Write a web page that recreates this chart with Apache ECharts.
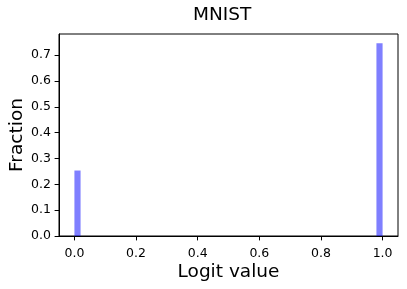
<!DOCTYPE html>
<html><head><meta charset="utf-8">
<script src="https://cdn.jsdelivr.net/npm/echarts@6/dist/echarts.min.js"></script>
<style>html,body{margin:0;padding:0;background:#fff}#c{width:407px;height:289px}</style>
</head><body><div id="c"></div>
<script>
// histogram bins (50 bins of width 0.02 on [0,1]); only non-empty bins listed
const binLeft = [0.0, 0.98];
const binWidth = 0.02;
const fraction = [0.2535, 0.7465];
const xTicks = [0.0, 0.2, 0.4, 0.6, 0.8, 1.0];
const yTicks = [0.0, 0.1, 0.2, 0.3, 0.4, 0.5, 0.6, 0.7];

const FONT = 'DejaVu Sans';
const data = binLeft.map((l, i) => [l, l + binWidth, fraction[i]]);
const chart = echarts.init(document.getElementById('c'), null, {renderer: 'canvas'});
chart.setOption({
  animation: false,
  title: {text: 'MNIST', left: 188, top: 1,
    textStyle: {fontFamily: FONT, fontSize: 18.5, fontWeight: 'normal', color: '#000'}},
  grid: {left: 59, right: 9, top: 34, bottom: 53, containLabel: false, outerBoundsMode: 'none',
    show: true, borderColor: '#000', borderWidth: 1, backgroundColor: 'transparent'},
  xAxis: {type: 'value', min: -0.05, max: 1.05,
    name: 'Logit value', nameLocation: 'middle', nameGap: 26.5, nameMoveOverlap: false,
    nameTextStyle: {fontFamily: FONT, fontSize: 18.5, color: '#000'},
    axisLine: {show: true, onZero: false, lineStyle: {color: '#000', width: 1}},
    axisTick: {show: true, customValues: xTicks, length: 4.4, lineStyle: {color: '#000'}},
    axisLabel: {customValues: xTicks, formatter: v => v.toFixed(1), fontFamily: FONT, fontSize: 12.5, color: '#000', margin: 11.5},
    splitLine: {show: false}},
  yAxis: {type: 'value', min: 0, max: 0.782,
    name: 'Fraction', nameLocation: 'middle', nameGap: 32, nameMoveOverlap: false,
    nameTextStyle: {fontFamily: FONT, fontSize: 18.5, color: '#000'},
    axisLine: {show: true, onZero: false, lineStyle: {color: '#000', width: 1}},
    axisTick: {show: true, customValues: yTicks, length: 4.4, lineStyle: {color: '#000'}},
    axisLabel: {customValues: yTicks, formatter: v => v.toFixed(1), fontFamily: FONT, fontSize: 12.5, color: '#000', margin: 8},
    splitLine: {show: false}},
  series: [{
    type: 'custom',
    data: data,
    encode: {x: [0, 1], y: 2},
    renderItem: function (params, api) {
      const p0 = api.coord([api.value(0), 0]);
      const p1 = api.coord([api.value(1), api.value(2)]);
      return {type: 'rect', shape: {x: p0[0], y: p1[1], width: p1[0] - p0[0], height: p0[1] - p1[1]},
        style: {fill: 'rgba(0,0,255,0.5)'}};
    }
  }]
});
</script></body></html>
